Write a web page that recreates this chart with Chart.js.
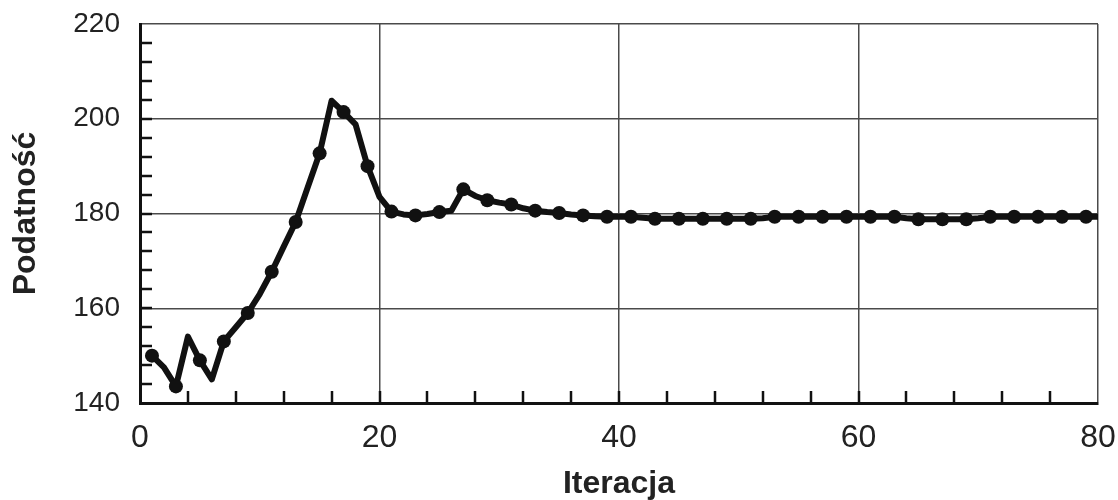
<!DOCTYPE html>
<html>
<head>
<meta charset="utf-8">
<script src="https://cdn.jsdelivr.net/npm/chart.js@4/dist/chart.umd.min.js"></script>
<style>
  html, body { margin: 0; padding: 0; background: #fff; }
  #wrap { width: 1118px; height: 500px; }
</style>
</head>
<body>
<div id="wrap"><canvas id="myChart" width="1118" height="500"></canvas></div>
<script>
// iteration numbers (x) and susceptibility values (y)
const iterations = [
  1, 2, 3, 4, 5, 6, 7, 8, 9, 10,
  11, 12, 13, 14, 15, 16, 17, 18, 19, 20,
  21, 22, 23, 24, 25, 26, 27, 28, 29, 30,
  31, 32, 33, 34, 35, 36, 37, 38, 39, 40,
  41, 42, 43, 44, 45, 46, 47, 48, 49, 50,
  51, 52, 53, 54, 55, 56, 57, 58, 59, 60,
  61, 62, 63, 64, 65, 66, 67, 68, 69, 70,
  71, 72, 73, 74, 75, 76, 77, 78, 79, 80
]
const podatnosc = [
  150.0, 147.5, 143.5, 154.0, 149.0, 145.0, 153.0, 156.0, 159.0, 163.0,
  167.7, 173.0, 178.2, 185.5, 192.7, 203.8, 201.4, 198.8, 190.0, 183.5,
  180.4, 179.8, 179.6, 179.9, 180.3, 180.6, 185.1, 183.7, 182.8, 182.3,
  181.9, 181.1, 180.6, 180.3, 180.1, 179.8, 179.6, 179.4, 179.3, 179.3,
  179.3, 179.1, 178.9, 178.9, 178.9, 178.9, 178.9, 178.9, 178.9, 178.9,
  178.9, 179.0, 179.3, 179.3, 179.3, 179.3, 179.3, 179.3, 179.3, 179.3,
  179.3, 179.3, 179.3, 179.0, 178.8, 178.8, 178.8, 178.8, 178.8, 179.0,
  179.3, 179.3, 179.3, 179.3, 179.3, 179.3, 179.3, 179.3, 179.3, 179.3
]
const xTicks = [0, 20, 40, 60, 80]
const yTicks = [140, 160, 180, 200, 220]

const FONT = "'Liberation Sans', Arial, sans-serif"

// small inward ticks every 4 units on both axes
const minorTicks = {
  id: 'minorTicks',
  afterDraw(chart) {
    const { ctx, chartArea, scales } = chart
    ctx.save()
    ctx.strokeStyle = '#111'
    ctx.lineWidth = 2.5
    ctx.beginPath()
    for (let v = 144; v < 220; v += 4) {
      const y = Math.round(scales.y.getPixelForValue(v))
      ctx.moveTo(chartArea.left, y)
      ctx.lineTo(chartArea.left + 12, y)
    }
    for (let v = 4; v < 80; v += 4) {
      const x = Math.round(scales.x.getPixelForValue(v))
      ctx.moveTo(x, chartArea.bottom)
      ctx.lineTo(x, chartArea.bottom - 12)
    }
    ctx.stroke()
    ctx.restore()
  }
}

// keep the plot box fixed: no automatic room for the end labels
const noPad = (s) => {
  s.paddingTop = 0
  s.paddingBottom = 0
  s.paddingLeft = 0
  s.paddingRight = 0
}

const config = {
  type: 'line',
  data: {
    datasets: [{
      label: 'Podatność',
      data: iterations.map((it, i) => ({ x: it, y: podatnosc[i] })),
      borderColor: '#111',
      backgroundColor: '#111',
      borderWidth: 6,
      borderJoinStyle: 'round',
      borderCapStyle: 'round',
      tension: 0,
      pointRadius: (c) => (iterations[c.dataIndex] % 2 === 1 ? 7 : 0),
      pointHoverRadius: 0,
      pointBackgroundColor: '#111',
      pointBorderWidth: 0
    }]
  },
  options: {
    responsive: false,
    animation: false,
    layout: { padding: { left: 0, top: 24, right: 20, bottom: 0 } },
    plugins: { legend: { display: false }, tooltip: { enabled: false } },
    scales: {
      x: {
        type: 'linear',
        min: 0,
        max: 80,
        afterBuildTicks: (s) => { s.ticks = xTicks.map(v => ({ value: v })) },
        afterFit: (s) => { s.height = 97; noPad(s) },
        grid: { color: '#4a4a4a', lineWidth: 1.5, drawTicks: false },
        border: { color: '#111', width: 3 },
        ticks: { padding: 16, color: '#222', font: { family: FONT, size: 32 } },
        title: {
          display: true,
          text: 'Iteracja',
          color: '#222',
          padding: { top: 0, bottom: 0 },
          font: { family: FONT, size: 32, weight: 'bold', lineHeight: 1 }
        }
      },
      y: {
        min: 140,
        max: 220,
        afterBuildTicks: (s) => { s.ticks = yTicks.map(v => ({ value: v })) },
        afterFit: (s) => { s.width = 140; noPad(s) },
        grid: { color: '#4a4a4a', lineWidth: 1.5, drawTicks: false },
        border: { color: '#111', width: 3 },
        ticks: { padding: 20, color: '#222', font: { family: FONT, size: 28 } },
        title: {
          display: true,
          text: 'Podatność',
          color: '#222',
          padding: { top: 10, bottom: 0 },
          font: { family: FONT, size: 32, weight: 'bold', lineHeight: 1 }
        }
      }
    }
  },
  plugins: [minorTicks]
}

new Chart(document.getElementById('myChart').getContext('2d'), config)
</script>
</body>
</html>
